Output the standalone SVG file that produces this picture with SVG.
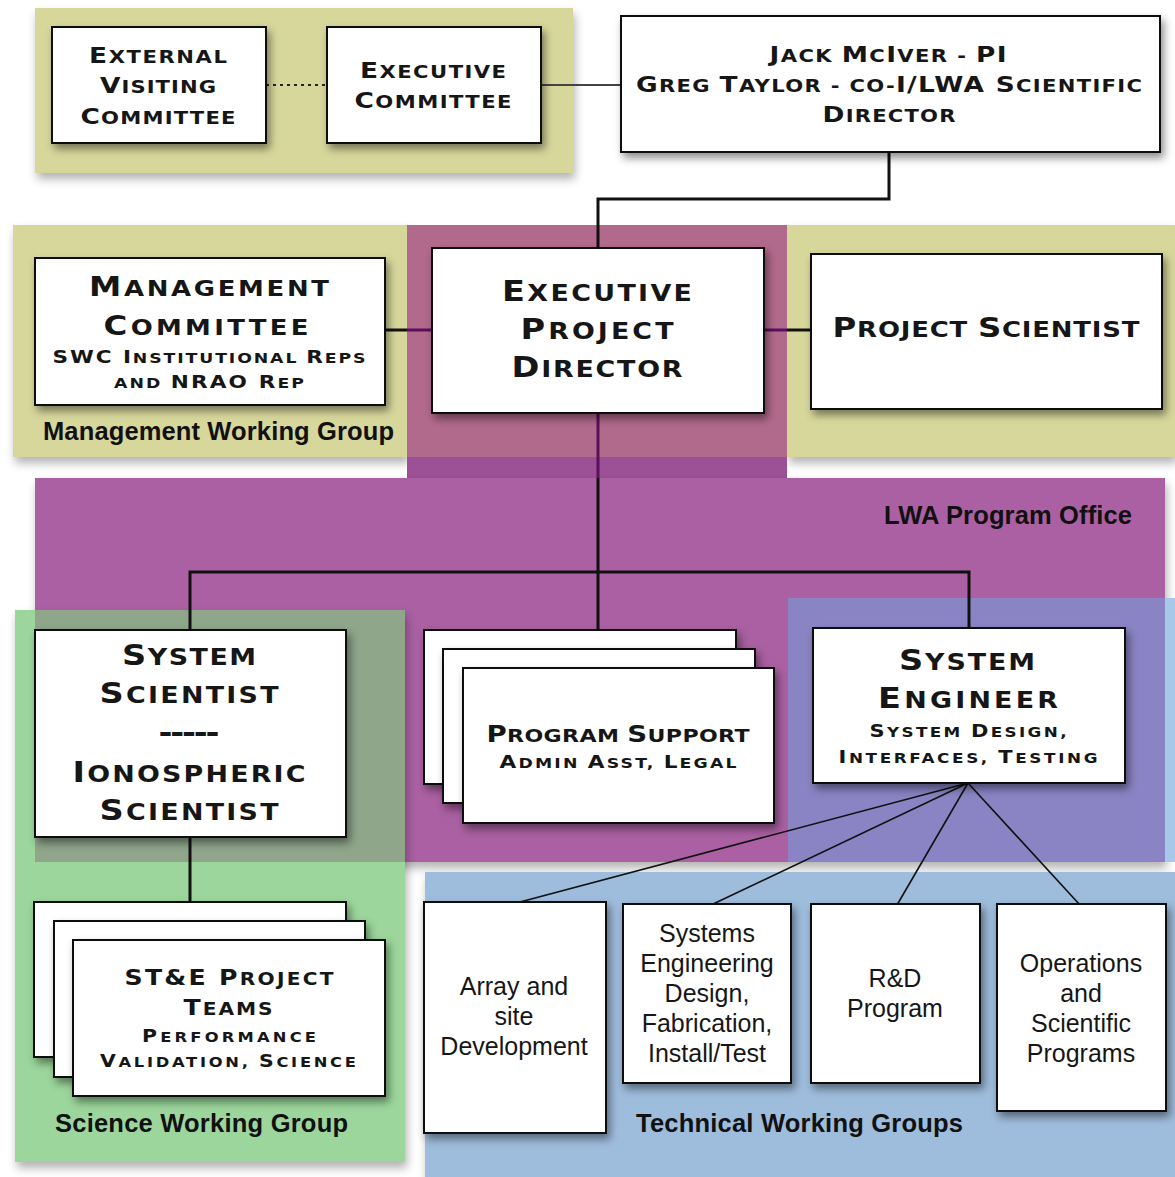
<svg xmlns="http://www.w3.org/2000/svg" width="1175" height="1177" viewBox="0 0 1175 1177">
<defs>
<filter id="sh" x="-10%" y="-10%" width="130%" height="130%">
<feDropShadow dx="3" dy="5" stdDeviation="4" flood-color="#000" flood-opacity="0.45"/>
</filter>
<filter id="rsh" x="-5%" y="-5%" width="115%" height="125%">
<feDropShadow dx="2" dy="6" stdDeviation="5" flood-color="#000" flood-opacity="0.3"/>
</filter>
<style>
.box{fill:#fff;stroke:#111;stroke-width:2;filter:url(#sh)}
.t{font-family:"DejaVu Sans","Liberation Sans",Arial,sans-serif;font-weight:bold;fill:#161616;text-anchor:middle}
.s{font-size:80%}
.r{font-family:"Liberation Sans",Arial,sans-serif;font-size:25px;fill:#161616;text-anchor:middle}
.lbl{font-family:"Liberation Sans",Arial,sans-serif;font-weight:bold;font-size:25.5px;fill:#111}
.ln{fill:none;stroke:#111;stroke-width:3}
.lp{fill:none;stroke:#5a0e5e;stroke-width:3}
.fan{fill:none;stroke:#111;stroke-width:1.6}
</style>
</defs>
<rect width="1175" height="1177" fill="#fff"/>

<g id="regions">
<rect id="top-group" x="35" y="8" width="538" height="165" fill="#d7d79c" filter="url(#rsh)"/>
<rect x="13" y="225" width="394" height="232" fill="#d7d79c" filter="url(#rsh)"/>
<rect x="787" y="225" width="388" height="232" fill="#d7d79c" filter="url(#rsh)"/>
<rect x="407" y="225" width="380" height="232" fill="#b26a8c"/>
<rect x="407" y="457" width="380" height="21" fill="#9c5096"/>
<rect x="35" y="478" width="1130" height="384" fill="#aa60a2" filter="url(#rsh)"/>
<rect x="425" y="872" width="750" height="305" fill="#9ebcdc" filter="url(#rsh)"/>
<rect x="15" y="610" width="390" height="552" fill="#9cd69c" filter="url(#rsh)"/>
<rect x="35" y="610" width="370" height="252" fill="#8fa68b"/>
<rect x="788" y="598" width="387" height="264" fill="#8a84c4"/>
<rect x="1165" y="598" width="10" height="264" fill="#a8c8ea"/>
<text class="lbl" x="43" y="440" textLength="351">Management Working Group</text>
<text class="lbl" x="884" y="524" textLength="248">LWA Program Office</text>
<text class="lbl" x="55" y="1132" textLength="293">Science Working Group</text>
<text class="lbl" x="636" y="1132" textLength="327">Technical Working Groups</text>
</g>

<g id="connectors">
<line x1="266" y1="85" x2="327" y2="85" stroke="#222" stroke-width="2" stroke-dasharray="3,4"/>
<line x1="541" y1="85" x2="621" y2="85" stroke="#444" stroke-width="2"/>
<path class="ln" d="M889 152 V199 H598 V248"/>
<line class="ln" x1="385" y1="330" x2="407" y2="330"/>
<line class="lp" x1="407" y1="330" x2="432" y2="330"/>
<line class="lp" x1="764" y1="330" x2="787" y2="330"/>
<line class="ln" x1="787" y1="330" x2="811" y2="330"/>
<line class="lp" x1="598" y1="413" x2="598" y2="478"/>
<line class="ln" x1="598" y1="478" x2="598" y2="630"/>
<path class="ln" d="M190 630 V572 H969 V628"/>
<line class="ln" x1="190" y1="837" x2="190" y2="902"/>
<line class="fan" x1="968" y1="783" x2="520" y2="902"/>
<line class="fan" x1="968" y1="783" x2="711" y2="905"/>
<line class="fan" x1="968" y1="783" x2="897" y2="905"/>
<line class="fan" x1="968" y1="783" x2="1080" y2="905"/>
</g>

<g id="external-visiting-committee">
<rect class="box" x="52" y="27" width="214" height="116"/>
<text class="t" font-size="22" transform="matrix(1.2 0 0 1 158 0)" x="0" y="63" textLength="115">E<tspan class="s">XTERNAL</tspan></text>
<text class="t" font-size="22" transform="matrix(1.2 0 0 1 158 0)" x="0" y="93" textLength="96.7">V<tspan class="s">ISITING</tspan></text>
<text class="t" font-size="22" transform="matrix(1.2 0 0 1 158 0)" x="0" y="124" textLength="129.2">C<tspan class="s">OMMITTEE</tspan></text>
</g>

<g id="executive-committee">
<rect class="box" x="327" y="27" width="214" height="116"/>
<text class="t" font-size="22" transform="matrix(1.2 0 0 1 433 0)" x="0" y="78" textLength="121.7">E<tspan class="s">XECUTIVE</tspan></text>
<text class="t" font-size="22" transform="matrix(1.2 0 0 1 433 0)" x="0" y="108" textLength="130.8">C<tspan class="s">OMMITTEE</tspan></text>
</g>

<g id="pi">
<rect class="box" x="621" y="16" width="539" height="136"/>
<text class="t" font-size="22" transform="matrix(1.2 0 0 1 888 0)" x="0" y="62" textLength="197.5">J<tspan class="s">ACK </tspan>M<tspan class="s">C</tspan>I<tspan class="s">VER - </tspan>PI</text>
<text class="t" font-size="22" transform="matrix(1.2 0 0 1 889 0)" x="0" y="92" textLength="421.7">G<tspan class="s">REG </tspan>T<tspan class="s">AYLOR - CO-</tspan>I/LWA S<tspan class="s">CIENTIFIC</tspan></text>
<text class="t" font-size="22" transform="matrix(1.2 0 0 1 889 0)" x="0" y="122" textLength="110.8">D<tspan class="s">IRECTOR</tspan></text>
</g>

<g id="management-committee">
<rect class="box" x="35" y="258" width="350" height="147"/>
<text class="t" font-size="27" transform="matrix(1.2 0 0 1 209 0)" x="0" y="296" textLength="200">M<tspan class="s">ANAGEMENT</tspan></text>
<text class="t" font-size="27" transform="matrix(1.2 0 0 1 206 0)" x="0" y="335" textLength="170.8">C<tspan class="s">OMMITTEE</tspan></text>
<text class="t" font-size="18" transform="matrix(1.2 0 0 1 209 0)" x="0" y="363" textLength="260.8">SWC I<tspan class="s">NSTITUTIONAL </tspan>R<tspan class="s">EPS</tspan></text>
<text class="t" font-size="18" transform="matrix(1.2 0 0 1 209 0)" x="0" y="388" textLength="158.3"><tspan class="s">AND </tspan>NRAO R<tspan class="s">EP</tspan></text>
</g>

<g id="executive-project-director">
<rect class="box" x="432" y="248" width="332" height="165"/>
<text class="t" font-size="28" transform="matrix(1.2 0 0 1 597 0)" x="0" y="301" textLength="158.3">E<tspan class="s">XECUTIVE</tspan></text>
<text class="t" font-size="28" transform="matrix(1.2 0 0 1 597 0)" x="0" y="339" textLength="127.5">P<tspan class="s">ROJECT</tspan></text>
<text class="t" font-size="28" transform="matrix(1.2 0 0 1 597 0)" x="0" y="377" textLength="142.5">D<tspan class="s">IRECTOR</tspan></text>
</g>

<g id="project-scientist">
<rect class="box" x="811" y="254" width="351" height="155"/>
<text class="t" font-size="27" transform="matrix(1.2 0 0 1 986 0)" x="0" y="337" textLength="255.8">P<tspan class="s">ROJECT </tspan>S<tspan class="s">CIENTIST</tspan></text>
</g>

<g id="system-scientist">
<rect class="box" x="35" y="630" width="311" height="207"/>
<text class="t" font-size="28" transform="matrix(1.2 0 0 1 189 0)" x="0" y="665" textLength="111.7">S<tspan class="s">YSTEM</tspan></text>
<text class="t" font-size="28" transform="matrix(1.2 0 0 1 189 0)" x="0" y="703" textLength="149.2">S<tspan class="s">CIENTIST</tspan></text>
<text class="t" font-size="28" transform="matrix(1.2 0 0 1 189 0)" x="0" y="742" textLength="50.8">-----</text>
<text class="t" font-size="28" transform="matrix(1.2 0 0 1 189 0)" x="0" y="782" textLength="194.2">I<tspan class="s">ONOSPHERIC</tspan></text>
<text class="t" font-size="28" transform="matrix(1.2 0 0 1 189 0)" x="0" y="820" textLength="149.2">S<tspan class="s">CIENTIST</tspan></text>
</g>

<g id="program-support">
<rect class="box" x="424" y="630" width="312" height="154"/>
<rect class="box" x="443" y="649" width="312" height="154"/>
<rect class="box" x="463" y="668" width="311" height="155"/>
<text class="t" font-size="23" transform="matrix(1.2 0 0 1 618 0)" x="0" y="742" textLength="219.2">P<tspan class="s">ROGRAM </tspan>S<tspan class="s">UPPORT</tspan></text>
<text class="t" font-size="18" transform="matrix(1.2 0 0 1 618 0)" x="0" y="768" textLength="197.5">A<tspan class="s">DMIN </tspan>A<tspan class="s">SST, </tspan>L<tspan class="s">EGAL</tspan></text>
</g>

<g id="system-engineer">
<rect class="box" x="813" y="628" width="312" height="155"/>
<text class="t" font-size="28" transform="matrix(1.2 0 0 1 967 0)" x="0" y="670" textLength="113.3">S<tspan class="s">YSTEM</tspan></text>
<text class="t" font-size="28" transform="matrix(1.2 0 0 1 968 0)" x="0" y="708" textLength="150">E<tspan class="s">NGINEER</tspan></text>
<text class="t" font-size="17.5" transform="matrix(1.2 0 0 1 968 0)" x="0" y="737" textLength="164.2">S<tspan class="s">YSTEM </tspan>D<tspan class="s">ESIGN,</tspan></text>
<text class="t" font-size="17.5" transform="matrix(1.2 0 0 1 968 0)" x="0" y="763" textLength="215.8">I<tspan class="s">NTERFACES, </tspan>T<tspan class="s">ESTING</tspan></text>
</g>

<g id="ste-project-teams">
<rect class="box" x="34" y="902" width="312" height="155"/>
<rect class="box" x="54" y="921" width="311" height="156"/>
<rect class="box" x="73" y="940" width="312" height="156"/>
<text class="t" font-size="21" transform="matrix(1.2 0 0 1 229 0)" x="0" y="985" textLength="174.2">ST&amp;E P<tspan class="s">ROJECT</tspan></text>
<text class="t" font-size="21" transform="matrix(1.2 0 0 1 228 0)" x="0" y="1015" textLength="74.2">T<tspan class="s">EAMS</tspan></text>
<text class="t" font-size="17" transform="matrix(1.2 0 0 1 229 0)" x="0" y="1042" textLength="145">P<tspan class="s">ERFORMANCE</tspan></text>
<text class="t" font-size="17" transform="matrix(1.2 0 0 1 228 0)" x="0" y="1067" textLength="213.3">V<tspan class="s">ALIDATION, </tspan>S<tspan class="s">CIENCE</tspan></text>
</g>

<g id="array-site-development">
<rect class="box" x="424" y="902" width="182" height="231"/>
<text class="r" x="514" y="995">Array and</text>
<text class="r" x="514" y="1025">site</text>
<text class="r" x="514" y="1055">Development</text>
</g>

<g id="systems-engineering">
<rect class="box" x="623" y="904" width="168" height="179"/>
<text class="r" x="707" y="942">Systems</text>
<text class="r" x="707" y="972">Engineering</text>
<text class="r" x="707" y="1002">Design,</text>
<text class="r" x="707" y="1032">Fabrication,</text>
<text class="r" x="707" y="1062">Install/Test</text>
</g>

<g id="rd-program">
<rect class="box" x="811" y="904" width="169" height="179"/>
<text class="r" x="895" y="987">R&amp;D</text>
<text class="r" x="895" y="1017">Program</text>
</g>

<g id="operations">
<rect class="box" x="997" y="904" width="169" height="207"/>
<text class="r" x="1081" y="972">Operations</text>
<text class="r" x="1081" y="1002">and</text>
<text class="r" x="1081" y="1032">Scientific</text>
<text class="r" x="1081" y="1062">Programs</text>
</g>
</svg>
